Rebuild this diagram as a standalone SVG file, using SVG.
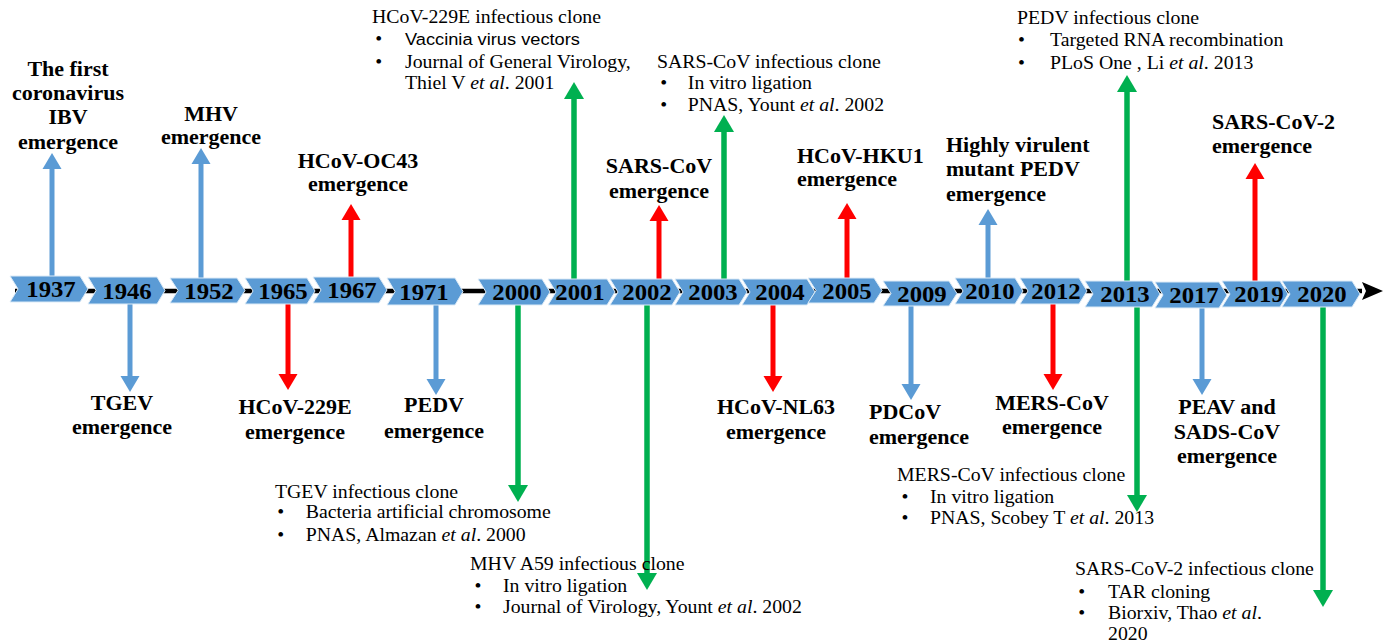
<svg xmlns="http://www.w3.org/2000/svg" width="1384" height="642" viewBox="0 0 1384 642">
<style>
.yr{font-family:"Liberation Serif","Times New Roman",serif;font-weight:bold;font-size:22.5px;fill:#000;text-anchor:middle}
.lb{font-family:"Liberation Serif","Times New Roman",serif;font-weight:bold;font-size:20px;fill:#000}
.c{text-anchor:middle}
.tx{font-family:"Liberation Serif","Times New Roman",serif;font-size:18px;fill:#000}
.sn{font-family:"Liberation Sans",Arial,sans-serif;font-size:17px;fill:#000}
.it{font-style:italic}
.chev{fill:#5B9BD5;stroke:#DDEBF7;stroke-width:1}
.ab{stroke:#5B9BD5;stroke-width:5;marker-end:url(#hb)}
.ar{stroke:#FF0000;stroke-width:5;marker-end:url(#hr)}
.ag{stroke:#00B050;stroke-width:5.5;marker-end:url(#hg)}
</style>
<defs>
<marker id="hb" markerUnits="userSpaceOnUse" markerWidth="17" markerHeight="20" viewBox="0 -10 17 20" refX="0" refY="0" orient="auto" overflow="visible"><path d="M0,-9.5 L16,0 L0,9.5 Z" fill="#5B9BD5"/></marker>
<marker id="hr" markerUnits="userSpaceOnUse" markerWidth="17" markerHeight="20" viewBox="0 -10 17 20" refX="0" refY="0" orient="auto" overflow="visible"><path d="M0,-9.5 L16,0 L0,9.5 Z" fill="#FF0000"/></marker>
<marker id="hg" markerUnits="userSpaceOnUse" markerWidth="17" markerHeight="20" viewBox="0 -10 17 20" refX="0" refY="0" orient="auto" overflow="visible"><path d="M0,-10 L17,0 L0,10 Z" fill="#00B050"/></marker>
<marker id="hk" markerUnits="userSpaceOnUse" markerWidth="22" markerHeight="20" viewBox="0 -10 22 20" refX="0" refY="0" orient="auto" overflow="visible"><path d="M0,-9 L21,0 L0,9 L4,0 Z" fill="#000"/></marker>
</defs>
<rect width="1384" height="642" fill="#fff"/>

<g id="connectors">
<line x1="15" y1="291" x2="1362" y2="291" stroke="#000" stroke-width="4.5" marker-end="url(#hk)"/>
<line class="ab" x1="52" y1="290" x2="52" y2="169"/>
<line class="ab" x1="201" y1="290" x2="201" y2="164"/>
<line class="ar" x1="351" y1="290" x2="351" y2="220"/>
<line class="ag" x1="574" y1="290" x2="574" y2="99"/>
<line class="ar" x1="659" y1="290" x2="659" y2="221"/>
<line class="ag" x1="724" y1="290" x2="724" y2="132"/>
<line class="ar" x1="847" y1="290" x2="847" y2="219"/>
<line class="ab" x1="988" y1="290" x2="988" y2="225"/>
<line class="ag" x1="1127" y1="290" x2="1127" y2="92"/>
<line class="ar" x1="1255" y1="290" x2="1255" y2="179"/>
<line class="ab" x1="130" y1="292" x2="130" y2="376"/>
<line class="ar" x1="288" y1="292" x2="288" y2="374"/>
<line class="ab" x1="436" y1="292" x2="436" y2="379"/>
<line class="ag" x1="518" y1="292" x2="518" y2="485"/>
<line class="ag" x1="647" y1="292" x2="647" y2="573"/>
<line class="ar" x1="773" y1="292" x2="773" y2="376"/>
<line class="ab" x1="911" y1="292" x2="911" y2="384"/>
<line class="ar" x1="1053" y1="292" x2="1053" y2="374"/>
<line class="ag" x1="1137" y1="292" x2="1137" y2="495"/>
<line class="ab" x1="1202" y1="292" x2="1202" y2="379"/>
<line class="ag" x1="1323" y1="292" x2="1323" y2="590"/>
</g>

<g id="timeline">
<g id="y1937"><polygon class="chev" points="10,276 80,276 88,289 80,302 10,302 18,289"/><text class="yr" transform="translate(51,297) scale(1.1,1)">1937</text></g>
<g id="y1946"><polygon class="chev" points="88,277 157,277 165,290.5 157,304 88,304 96,290.5"/><text class="yr" transform="translate(127,298.5) scale(1.1,1)">1946</text></g>
<g id="y1952"><polygon class="chev" points="170,278 237,278 245,290.5 237,303 170,303 178,290.5"/><text class="yr" transform="translate(209,298.5) scale(1.1,1)">1952</text></g>
<g id="y1965"><polygon class="chev" points="245,278 307,278 315,291 307,304 245,304 253,291"/><text class="yr" transform="translate(283,299) scale(1.1,1)">1965</text></g>
<g id="y1967"><polygon class="chev" points="313,277 379,277 387,290 379,303 313,303 321,290"/><text class="yr" transform="translate(352,298) scale(1.1,1)">1967</text></g>
<g id="y1971"><polygon class="chev" points="387,278 455,278 463,291.5 455,305 387,305 395,291.5"/><text class="yr" transform="translate(424,299.5) scale(1.1,1)">1971</text></g>
<g id="y2000"><polygon class="chev" points="478,279 542,279 550,292 542,305 478,305 486,292"/><text class="yr" transform="translate(517,300) scale(1.1,1)">2000</text></g>
<g id="y2001"><polygon class="chev" points="548,279 607,279 615,292 607,305 548,305 556,292"/><text class="yr" transform="translate(580,300) scale(1.1,1)">2001</text></g>
<g id="y2002"><polygon class="chev" points="610,279 672,279 680,292 672,305 610,305 618,292"/><text class="yr" transform="translate(647,300) scale(1.1,1)">2002</text></g>
<g id="y2003"><polygon class="chev" points="675,279 739,279 747,292 739,305 675,305 683,292"/><text class="yr" transform="translate(713,300) scale(1.1,1)">2003</text></g>
<g id="y2004"><polygon class="chev" points="742,279 807,279 815,292 807,305 742,305 750,292"/><text class="yr" transform="translate(780,300) scale(1.1,1)">2004</text></g>
<g id="y2005"><polygon class="chev" points="808,278 874,278 882,290.5 874,303 808,303 816,290.5"/><text class="yr" transform="translate(847,298.5) scale(1.1,1)">2005</text></g>
<g id="y2009"><polygon class="chev" points="883,281 949,281 957,293.5 949,306 883,306 891,293.5"/><text class="yr" transform="translate(922,301.5) scale(1.1,1)">2009</text></g>
<g id="y2010"><polygon class="chev" points="955,278 1015,278 1023,291 1015,304 955,304 963,291"/><text class="yr" transform="translate(990,299) scale(1.1,1)">2010</text></g>
<g id="y2012"><polygon class="chev" points="1020,278 1079,278 1087,291 1079,304 1020,304 1028,291"/><text class="yr" transform="translate(1056,299) scale(1.1,1)">2012</text></g>
<g id="y2013"><polygon class="chev" points="1085,281 1152,281 1160,294 1152,307 1085,307 1093,294"/><text class="yr" transform="translate(1125,302) scale(1.1,1)">2013</text></g>
<g id="y2017"><polygon class="chev" points="1155,282 1219,282 1227,295 1219,308 1155,308 1163,295"/><text class="yr" transform="translate(1194,303) scale(1.1,1)">2017</text></g>
<g id="y2019"><polygon class="chev" points="1222,281 1280,281 1288,294 1280,307 1222,307 1230,294"/><text class="yr" transform="translate(1259,302) scale(1.1,1)">2019</text></g>
<g id="y2020"><polygon class="chev" points="1282,281 1352,281 1360,294 1352,307 1282,307 1290,294"/><text class="yr" transform="translate(1322,302) scale(1.1,1)">2020</text></g>
</g>

<g id="lbl-ibv" class="lb c" transform="translate(68,0) scale(1.1,1)">
<text x="0" y="76">The first</text><text x="0" y="100">coronavirus</text><text x="0" y="124">IBV</text><text x="0" y="149">emergence</text>
</g>
<g id="lbl-mhv" class="lb c" transform="translate(211,0) scale(1.1,1)">
<text x="0" y="121">MHV</text><text x="0" y="144">emergence</text>
</g>
<g id="lbl-oc43" class="lb c" transform="translate(358,0) scale(1.1,1)">
<text x="0" y="168">HCoV-OC43</text><text x="0" y="191">emergence</text>
</g>
<g id="lbl-sars" class="lb c" transform="translate(659,0) scale(1.1,1)">
<text x="0" y="173">SARS-CoV</text><text x="0" y="198">emergence</text>
</g>
<g id="lbl-hku1" class="lb" transform="translate(797,0) scale(1.1,1)">
<text x="0" y="163">HCoV-HKU1</text><text x="0" y="186">emergence</text>
</g>
<g id="lbl-hvpedv" class="lb" transform="translate(946,0) scale(1.1,1)">
<text x="0" y="152">Highly  virulent</text><text x="0" y="176">mutant  PEDV</text><text x="0" y="201">emergence</text>
</g>
<g id="lbl-sars2" class="lb" transform="translate(1212,0) scale(1.1,1)">
<text x="0" y="129">SARS-CoV-2</text><text x="0" y="153">emergence</text>
</g>
<g id="lbl-tgev" class="lb c" transform="translate(122,0) scale(1.1,1)">
<text x="0" y="410">TGEV</text><text x="0" y="434">emergence</text>
</g>
<g id="lbl-229e" class="lb c" transform="translate(295,0) scale(1.1,1)">
<text x="0" y="414">HCoV-229E</text><text x="0" y="439">emergence</text>
</g>
<g id="lbl-pedv" class="lb c" transform="translate(434,0) scale(1.1,1)">
<text x="0" y="412">PEDV</text><text x="0" y="438">emergence</text>
</g>
<g id="lbl-nl63" class="lb c" transform="translate(776,0) scale(1.1,1)">
<text x="0" y="414">HCoV-NL63</text><text x="0" y="439">emergence</text>
</g>
<g id="lbl-pdcov" class="lb" transform="translate(869,0) scale(1.1,1)">
<text x="0" y="419">PDCoV</text><text x="0" y="444">emergence</text>
</g>
<g id="lbl-mers" class="lb c" transform="translate(1052,0) scale(1.1,1)">
<text x="0" y="410">MERS-CoV</text><text x="0" y="434">emergence</text>
</g>
<g id="lbl-peav" class="lb c" transform="translate(1227,0) scale(1.1,1)">
<text x="0" y="414">PEAV and</text><text x="0" y="439">SADS-CoV</text><text x="0" y="463">emergence</text>
</g>

<g id="clone-229e" class="tx" transform="translate(372,0) scale(1.1,1)">
<text x="0" y="23">HCoV-229E infectious clone</text>
<text x="3" y="45">•</text><text class="sn" x="30" y="45" textLength="159" lengthAdjust="spacingAndGlyphs">Vaccinia virus vectors</text>
<text x="3" y="68">•</text><text x="30" y="68">Journal of General Virology,</text>
<text x="30" y="89">Thiel V <tspan class="it">et al</tspan>. 2001</text>
</g>
<g id="clone-sars" class="tx" transform="translate(657,0) scale(1.1,1)">
<text x="0" y="68">SARS-CoV infectious clone</text>
<text x="3" y="89">•</text><text x="28" y="89">In vitro ligation</text>
<text x="3" y="111">•</text><text x="28" y="111">PNAS, Yount <tspan class="it">et al</tspan>. 2002</text>
</g>
<g id="clone-pedv" class="tx" transform="translate(1017,0) scale(1.1,1)">
<text x="0" y="24">PEDV infectious clone</text>
<text x="1" y="46">•</text><text x="30" y="46">Targeted RNA recombination</text>
<text x="1" y="69">•</text><text x="30" y="69">PLoS One , Li <tspan class="it">et al</tspan>. 2013</text>
</g>
<g id="clone-tgev" class="tx" transform="translate(275,0) scale(1.1,1)">
<text x="0" y="498">TGEV infectious clone</text>
<text x="2" y="518">•</text><text x="28" y="518">Bacteria artificial  chromosome</text>
<text x="2" y="541">•</text><text x="28" y="541">PNAS, Almazan <tspan class="it">et al</tspan>. 2000</text>
</g>
<g id="clone-mhv" class="tx" transform="translate(470,0) scale(1.1,1)">
<text x="0" y="570">MHV A59 infectious clone</text>
<text x="4" y="592">•</text><text x="30" y="592">In vitro ligation</text>
<text x="4" y="613">•</text><text x="30" y="613">Journal of Virology, Yount <tspan class="it">et al</tspan>. 2002</text>
</g>
<g id="clone-mers" class="tx" transform="translate(897,0) scale(1.1,1)">
<text x="0" y="481">MERS-CoV infectious clone</text>
<text x="4" y="503">•</text><text x="30" y="503">In vitro ligation</text>
<text x="4" y="524">•</text><text x="30" y="524">PNAS, Scobey T <tspan class="it">et al</tspan>. 2013</text>
</g>
<g id="clone-sars2" class="tx" transform="translate(1075,0) scale(1.1,1)">
<text x="0" y="575">SARS-CoV-2 infectious clone</text>
<text x="3" y="598">•</text><text x="30" y="598">TAR cloning</text>
<text x="3" y="619">•</text><text x="30" y="619">Biorxiv, Thao <tspan class="it">et al</tspan>.</text>
<text x="30" y="640">2020</text>
</g>
</svg>
